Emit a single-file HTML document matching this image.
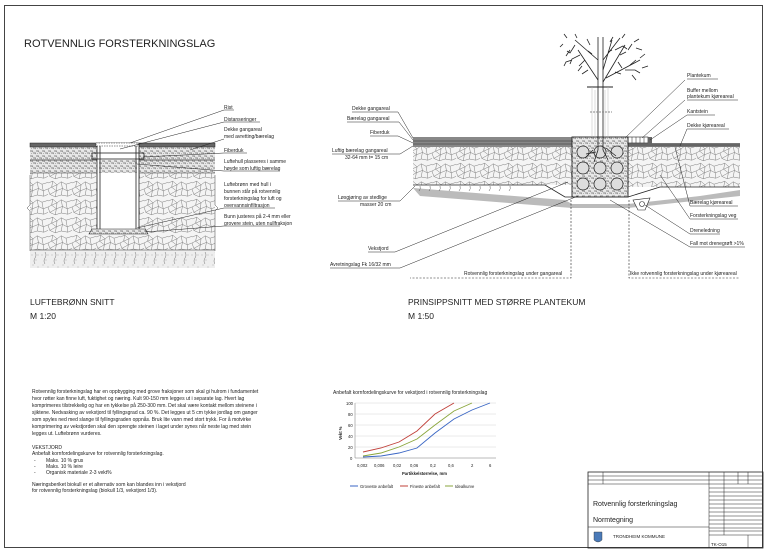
<!DOCTYPE html>
<html><head><meta charset="utf-8"><style>
body{margin:0;background:#fff}
svg{display:block}
text{font-family:"Liberation Sans",sans-serif;fill:#222}
.s{font-size:5px}
</style></head><body>
<svg width="771" height="555" viewBox="0 0 771 555" xmlns="http://www.w3.org/2000/svg">
<defs>
<pattern id="stone" width="40" height="30" patternUnits="userSpaceOnUse" patternTransform="scale(0.6)">
<rect width="40" height="30" fill="#f4f4f4"/>
<path d="M0 5 L8 2 L15 8 L22 3 L30 7 L40 4 M8 2 L6 12 L15 8 L14 18 L6 12 L0 15 M14 18 L24 14 L22 3 M24 14 L32 18 L30 7 M32 18 L40 15 M0 15 L3 24 L14 18 L12 28 L3 24 M12 28 L22 25 L24 14 M22 25 L33 27 L32 18 M33 27 L40 24" stroke="#777" stroke-width="0.8" fill="none"/>
</pattern>
<pattern id="gravel" width="6" height="5" patternUnits="userSpaceOnUse">
<rect width="6" height="5" fill="#e8e8e8"/>
<path d="M0 1 L2 0 L3 2 Z M3 3 L5 2 L6 4 Z M1 4 L2 3" stroke="#666" stroke-width="0.4" fill="none"/>
</pattern>
<pattern id="soil" width="10" height="18" patternUnits="userSpaceOnUse">
<rect width="10" height="18" fill="#eee"/>
<circle cx="2" cy="3" r="0.4" fill="#666"/><circle cx="6" cy="8" r="0.4" fill="#666"/><circle cx="3" cy="13" r="0.4" fill="#666"/><circle cx="8" cy="15" r="0.4" fill="#666"/><circle cx="8" cy="3" r="0.4" fill="#666"/>
<path d="M5 0 q2 3 0 6 q-2 3 0 6" stroke="#555" stroke-width="0.4" fill="none"/>
</pattern>
</defs>
<rect x="4.5" y="5.5" width="758" height="542" fill="none" stroke="#444" stroke-width="1"/>
<text x="24" y="47" style="font-size:11px">ROTVENNLIG FORSTERKNINGSLAG</text>

<!-- LEFT DRAWING -->
<rect x="30" y="147" width="185" height="26" fill="url(#gravel)"/>
<line x1="30" y1="160" x2="215" y2="160" stroke="#333" stroke-width="0.8"/>
<rect x="30" y="173" width="185" height="77" fill="url(#stone)"/>
<rect x="30" y="250" width="185" height="18" fill="url(#soil)"/>
<line x1="30" y1="250" x2="215" y2="250" stroke="#333" stroke-width="0.6"/>
<line x1="30" y1="173" x2="215" y2="173" stroke="#333" stroke-width="0.6"/>
<rect x="30" y="143" width="185" height="4" fill="#666" stroke="#222" stroke-width="0.5"/>
<rect x="97" y="143" width="42" height="89" fill="#fff"/>
<rect x="99" y="160" width="38" height="13" fill="url(#gravel)"/>
<path d="M97 143 V232 M100 143 V232 M136 143 V232 M139 143 V232" stroke="#222" stroke-width="0.8"/>
<rect x="96" y="143" width="42" height="3" fill="#fff" stroke="#222" stroke-width="0.6" stroke-dasharray="1.5 1"/>
<rect x="92" y="153" width="52" height="6" fill="none" stroke="#222" stroke-width="0.8"/>
<path d="M92 229 H145 L148 234 H89 Z" fill="url(#gravel)" stroke="#222" stroke-width="0.6"/>
<path d="M30 175 v30 l-3 3 l3 3 v40 M215 175 v30 l3 3 l-3 3 v40" stroke="#444" stroke-width="0.5" fill="none"/>
<g stroke="#222" stroke-width="0.5" fill="none">
<path d="M130 143 L224 110 H234"/>
<path d="M120 149 L224 122 H260"/>
<path d="M190 150 L224 139"/>
<path d="M143 157 L224 153 H247"/>
<path d="M137 164 L224 171 H280"/>
<path d="M137 228 L224 208 H275"/>
<path d="M145 232 L224 226 H280"/>
</g>
<g class="s">
<text x="224" y="109">Rist</text>
<text x="224" y="121">Distanseringer</text>
<text x="224" y="131">Dekke gangareal</text><text x="224" y="138">med avretting/bærelag</text>
<text x="224" y="152">Fiberduk</text>
<text x="224" y="163">Luftehull plasseres i samme</text><text x="224" y="170">høyde som luftig bærelag</text>
<text x="224" y="186">Luftebrønn med hull i</text><text x="224" y="193">bunnen står på rotvennlig</text><text x="224" y="200">forsterkningslag for luft og</text><text x="224" y="207">overvannsinfiltrasjon</text>
<text x="224" y="218">Bunn justeres på 2-4 mm eller</text><text x="224" y="225">grovere stein, uten nullfraksjon</text>
</g>
<text x="30" y="305" style="font-size:8.5px">LUFTEBRØNN SNITT</text>
<text x="30" y="319" style="font-size:8.5px">M 1:20</text>

<!-- RIGHT DRAWING -->
<path d="M413 188 L565 200 L572 204 H628 L700 196 L740 190 V196 L628 208 H572 L420 196 Z" fill="#bbb"/>
<rect x="413" y="137" width="159" height="10" fill="#888"/>
<line x1="413" y1="141" x2="572" y2="141" stroke="#333" stroke-width="0.5"/>
<line x1="413" y1="144" x2="572" y2="144" stroke="#333" stroke-width="0.5"/>
<rect x="413" y="147" width="159" height="38" fill="url(#stone)"/>
<path d="M413 185 H545 L565 197 H572" stroke="#222" stroke-width="0.8" fill="none"/>
<g stroke="#333" stroke-width="0.4" fill="none">
<path d="M420 186 q1 3 -1 5 M430 186 q1 3 -1 5 M440 186 q1 3 -1 5 M450 186 q1 3 -1 5 M460 186 q1 3 -1 5 M470 186 q1 3 -1 5 M480 186 q1 3 -1 5 M490 186 q1 3 -1 5 M500 186 q1 3 -1 5 M510 186 q1 3 -1 5"/>
</g>
<rect x="628" y="143" width="112" height="4" fill="#777"/>
<line x1="628" y1="145" x2="740" y2="145" stroke="#333" stroke-width="0.5"/>
<rect x="628" y="147" width="112" height="40" fill="url(#stone)"/>
<path d="M628 197 L660 187 H740" stroke="#222" stroke-width="0.8" fill="none"/>
<rect x="628" y="137" width="20" height="6" fill="#fff" stroke="#222" stroke-width="0.6"/>
<path d="M632 137 v6 M636 137 v6 M640 137 v6 M644 137 v6" stroke="#222" stroke-width="0.5"/>
<rect x="648" y="137" width="4" height="9" fill="#666"/>
<rect x="572" y="137" width="56" height="60" fill="url(#gravel)" stroke="#222" stroke-width="0.9"/>
<g fill="#ddd" stroke="#222" stroke-width="0.7">
<circle cx="583" cy="152" r="6"/><circle cx="600" cy="152" r="6"/><circle cx="617" cy="152" r="6"/>
<circle cx="583" cy="168" r="6"/><circle cx="600" cy="168" r="6"/><circle cx="617" cy="168" r="6"/>
<circle cx="583" cy="184" r="6"/><circle cx="600" cy="184" r="6"/><circle cx="617" cy="184" r="6"/>
</g>
<path d="M633 200 L650 198 L645 210 L638 210 Z" fill="#fff" stroke="#222" stroke-width="0.6"/>
<circle cx="642" cy="204" r="2.5" fill="#fff" stroke="#222" stroke-width="0.6"/>
<!-- tree -->
<g stroke="#222" stroke-width="0.8" fill="none">
<path d="M598 37 V150 M603 37 V150"/>
<path d="M598 80 L578 50 M603 82 L625 45 M606 78 L640 60 M598 60 L575 40 M603 60 L620 38 M603 70 L612 40"/>
<path d="M575 45 l-5 8 l-3 -2 M580 55 l-8 4 l-2 5 M585 60 l-6 6 M615 50 l8 -4 l4 3 M625 70 l10 0 l5 3 M630 65 l6 -5 M590 45 l-3 -6 M610 42 l3 -5 M640 58 l5 -4 M567 38 l-3 -4 M634 42 l5 -3"/>
<path d="M570 50 l-4 6 M572 60 l-6 2 l-2 4 M582 66 l-4 5 M588 70 l-6 4 M620 55 l6 -3 M628 50 l4 -6 M636 48 l6 2 M618 62 l4 6 M632 75 l4 5 M642 68 l6 -2 M563 44 l-3 3 M577 38 l-2 -4 M622 38 l3 -4 M615 72 l6 2 M592 54 l-4 -3 M608 52 l4 -2"/>
<path d="M587 87 H613" stroke-width="1"/>
<path d="M593 150 l-8 8 M598 150 l-4 12 M603 150 l5 10 M606 148 l10 8 M596 152 l-10 2"/>
</g>
<g stroke="#bbb" stroke-width="0.5"><path d="M592 87 V137 M608 87 V137 M595 90 V137 M605 90 V137"/></g>
<path d="M590 112 H612" stroke="#888" stroke-width="1" stroke-dasharray="2 1"/>
<!-- leaders -->
<g stroke="#222" stroke-width="0.5" fill="none">
<path d="M352 112 H398 L413 138"/>
<path d="M347 122 H399 L413 140"/>
<path d="M370 136 H398 L413 143"/>
<path d="M332 154 H400 L413 146"/>
<path d="M338 201 H400 L415 186"/>
<path d="M368 252 H395 L568 182"/>
<path d="M330 268 H400 L578 196"/>
<path d="M687 79 H718 M685 80 L625 138"/>
<path d="M687 100 H738 M685 100 L642 138"/>
<path d="M687 115 H715 M687 115 L650 140"/>
<path d="M687 129 H729 M687 129 L680 146"/>
<path d="M690 206 H738 M690 206 L675 147"/>
<path d="M690 219 H738 M690 219 L660 175"/>
<path d="M690 234 H720 M690 234 L645 205"/>
<path d="M690 247 H745 M690 247 L610 200"/>
</g>
<path d="M571 200 V278 H410 M629 200 V278 H740" stroke="#222" stroke-width="0.6" stroke-dasharray="2 1.5" fill="none"/>
<g class="s">
<text x="352" y="110">Dekke gangareal</text>
<text x="347" y="120">Bærelag gangareal</text>
<text x="370" y="134">Fiberduk</text>
<text x="332" y="152">Luftig bærelag gangareal</text><text x="345" y="159">32-64 mm t= 15 cm</text>
<text x="338" y="199">Løsgjøring av stedlige</text><text x="360" y="206">masser 20 cm</text>
<text x="368" y="250">Vekstjord</text>
<text x="330" y="266">Avretningslag Fk 16/32 mm</text>
<text x="687" y="77">Plantekum</text>
<text x="687" y="92">Buffer mellom</text><text x="687" y="98">plantekum kjøreareal</text>
<text x="687" y="113">Kantstein</text>
<text x="687" y="127">Dekke kjøreareal</text>
<text x="690" y="204">Bærelag kjøreareal</text>
<text x="690" y="217">Forsterkningslag veg</text>
<text x="690" y="232">Dreneledning</text>
<text x="690" y="245">Fall mot drenegrøft &gt;1%</text>
<text x="464" y="275">Rotvennlig forsterkningslag under gangareal</text>
<text x="630" y="275">Ikke rotvennlig forsterkningslag under kjøreareal</text>
</g>
<text x="408" y="305" style="font-size:8.5px">PRINSIPPSNITT MED STØRRE PLANTEKUM</text>
<text x="408" y="319" style="font-size:8.5px">M 1:50</text>

<!-- paragraph -->
<g class="s">
<text x="32" y="393">Rotvennlig forsterkningslag har en oppbygging med grove fraksjoner som skal gi hulrom i fundamentet</text>
<text x="32" y="400">hvor røtter kan finne luft, fuktighet og næring. Kult 90-150 mm legges ut i separate lag. Hvert lag</text>
<text x="32" y="407">komprimeres tilstrekkelig og har en tykkelse på 250-300 mm. Det skal være kontakt mellom steinene i</text>
<text x="32" y="414">sjiktene. Nedvasking av vekstjord til fyllingsgrad ca. 90 %. Det legges ut 5 cm tykke jordlag om ganger</text>
<text x="32" y="421">som spyles ned med slange til fyllingsgraden oppnås. Bruk lite vann med stort trykk. For å motvirke</text>
<text x="32" y="428">komprimering av vekstjorden skal den sprengte steinen i laget under synes når neste lag med stein</text>
<text x="32" y="435">legges ut. Luftebrønn vurderes.</text>
<text x="32" y="449">VEKSTJORD</text>
<text x="32" y="455">Anbefalt kornfordelingskurve for rotvennlig forsterkningslag.</text>
<text x="34" y="462">-</text><text x="46" y="462">Maks. 10 % grus</text>
<text x="34" y="468">-</text><text x="46" y="468">Maks. 10 % leire</text>
<text x="34" y="474">-</text><text x="46" y="474">Organisk materiale 2-3 vekt%</text>
<text x="32" y="486">Næringsberiket biokull er et alternativ som kan blandes inn i vekstjord</text>
<text x="32" y="492">for rotvennlig forsterkningslag (biokull 1/3, vekstjord 1/3).</text>
</g>

<!-- chart -->
<text x="333" y="394" class="s">Anbefalt kornfordelingskurve for vekstjord i rotvennlig forsterkningslag</text>
<g stroke="#ccc" stroke-width="0.4">
<path d="M355 403 H496 M355 414 H496 M355 425 H496 M355 436 H496 M355 447 H496"/>
</g>
<path d="M355 403 V458 H496" stroke="#777" stroke-width="0.5" fill="none"/>
<g style="font-size:4.2px">
<text x="346" y="405">100</text><text x="348" y="416">80</text><text x="348" y="427">60</text><text x="348" y="438">40</text><text x="348" y="449">20</text><text x="350" y="460">0</text>
<text x="357" y="467">0,002</text><text x="374" y="467">0,006</text><text x="393" y="467">0,02</text><text x="410" y="467">0,06</text><text x="430" y="467">0,2</text><text x="448" y="467">0,6</text><text x="471" y="467">2</text><text x="489" y="467">6</text>
<text x="402" y="475" style="font-weight:bold">Partikkelstørrelse, mm</text>
<text x="342" y="440" transform="rotate(-90 342 440)" style="font-weight:bold">Vekt %</text>
</g>
<polyline points="363,457 381,456 399,453 417,448 435,433 454,419 472,410 490,403" fill="none" stroke="#3a66c4" stroke-width="0.9"/>
<polyline points="363,452 381,448 399,442 417,431 435,414 454,403" fill="none" stroke="#c0403a" stroke-width="0.9"/>
<polyline points="363,456 381,453 399,447 417,439 435,425 454,411 472,403" fill="none" stroke="#8aa63c" stroke-width="0.9"/>
<g style="font-size:4.2px">
<line x1="350" y1="486" x2="358" y2="486" stroke="#3a66c4"/><text x="360" y="488">Groveste anbefalt</text>
<line x1="400" y1="486" x2="408" y2="486" stroke="#c0403a"/><text x="410" y="488">Fineste anbefalt</text>
<line x1="445" y1="486" x2="453" y2="486" stroke="#8aa63c"/><text x="455" y="488">Idealkurve</text>
</g>

<!-- title block -->
<g stroke="#222" stroke-width="0.5" fill="none">
<rect x="588" y="472" width="175" height="76" stroke-width="0.8"/>
<path d="M588 476 H763 M588 480 H763 M588 484 H763 M588 527 H709 M603 472 V484 M709 472 V548 M724 472 V484 M738 472 V484 M748 472 V484 M724 484 V535"/>
<path d="M709 488 H763 M709 492 H763 M709 496 H763 M709 500 H763 M709 504 H763 M709 508 H763 M709 512 H763 M709 516 H763 M709 520 H763 M709 524 H763 M709 528 H763 M709 531 H763 M709 535 H763 M748 535 V548"/>
</g>
<text x="593" y="506" style="font-size:7px">Rotvennlig forsterkningslag</text>
<text x="593" y="522" style="font-size:7px">Normtegning</text>
<path d="M594 532 h8 v8 q-4 4 -8 0 z" fill="#4a7ab8" stroke="#333" stroke-width="0.4"/>
<text x="613" y="538" style="font-size:4.5px">TRONDHEIM KOMMUNE</text>
<text x="711" y="546" style="font-size:4.5px">TK-O15</text>
</svg>
</body></html>
